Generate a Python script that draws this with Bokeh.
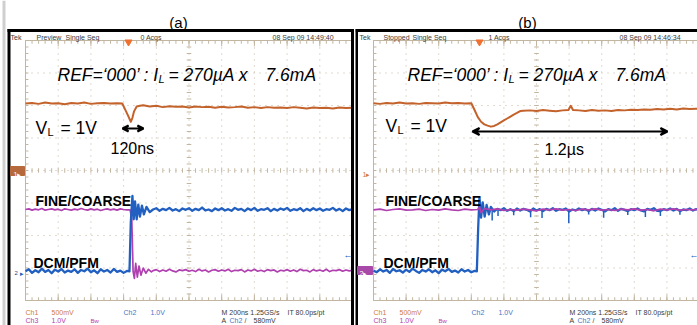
import numpy as np
from bokeh.plotting import figure
from bokeh.layouts import row
from bokeh.models import Range1d, Arrow, VeeHead
from bokeh.core.properties import value
from bokeh.embed import file_html
from bokeh.resources import INLINE

# ---------------- data (time in divisions, 200 ns/div; level in divisions) ----
def grid(a, b, step):
    return np.round(np.arange(a, b + step / 2, step), 3).tolist()

# panel (a)
ch1a_t = grid(0, 2.8, 0.2) + [2.96, 3.06, 3.14, 3.22, 3.27, 3.32, 3.4, 3.5, 3.6] + grid(3.8, 10, 0.2)
ch1a_v = [2.06, 2.08, 2.05, 2.09, 2.06, 2.07, 2.04, 2.08, 2.06, 2.09, 2.05, 2.07, 2.08, 2.06, 2.07,
          2.06, 1.85, 1.68, 1.50, 1.62, 1.82, 1.97, 1.99, 2.01,
          1.97, 1.99, 1.95, 1.98, 1.96, 1.97, 1.94, 1.97, 1.95, 1.96, 1.93, 1.96, 1.94, 1.95, 1.97, 1.93,
          1.95, 1.92, 1.95, 1.93, 1.94, 1.92, 1.95, 1.93, 1.91, 1.94, 1.92, 1.93, 1.91, 1.94, 1.92, 1.93]

ch2a_t = grid(0, 3.1, 0.1) + [3.18, 3.22, 3.27, 3.31, 3.35, 3.40, 3.45, 3.50, 3.56, 3.62, 3.70, 3.80] + grid(3.9, 10, 0.1)
ch2a_v = [-3.10, -3.04, -3.15, -3.07, -3.13, -3.02, -3.12, -3.06, -3.16, -3.05, -3.11, -3.03, -3.14, -3.08, -3.12, -3.04,
          -3.15, -3.06, -3.10, -3.02, -3.13, -3.07, -3.16, -3.04, -3.11, -3.06, -3.14, -3.03, -3.12, -3.08, -3.15, -3.09,
          -3.10, -1.60, -0.78, -1.50, -0.95, -1.50, -1.05, -1.42, -1.08, -1.35, -1.12, -1.28,
          -1.20, -1.16, -1.24, -1.18, -1.22, -1.15, -1.23, -1.19, -1.25, -1.17,
          -1.21, -1.16, -1.24, -1.18, -1.22, -1.14, -1.23, -1.20, -1.25, -1.17,
          -1.22, -1.16, -1.23, -1.19, -1.24, -1.15, -1.21, -1.18, -1.25, -1.17,
          -1.22, -1.15, -1.24, -1.19, -1.21, -1.16, -1.25, -1.18, -1.23, -1.17,
          -1.21, -1.15, -1.24, -1.19, -1.22, -1.16, -1.25, -1.18, -1.23, -1.16,
          -1.22, -1.17, -1.24, -1.19, -1.21, -1.15, -1.23, -1.18, -1.25, -1.17,
          -1.22, -1.19]

ch3a_t = grid(0, 3.1, 0.1) + [3.20, 3.25, 3.29, 3.33, 3.37, 3.42, 3.47, 3.53, 3.60, 3.68, 3.76, 3.85] + grid(3.9, 10, 0.1)
ch3a_v = [-1.20, -1.18, -1.22, -1.19, -1.21, -1.17, -1.22, -1.20, -1.18, -1.21, -1.19, -1.23, -1.18, -1.20, -1.22, -1.19,
          -1.21, -1.17, -1.20, -1.22, -1.18, -1.21, -1.19, -1.23, -1.20, -1.18, -1.21, -1.19, -1.22, -1.18, -1.20, -1.21,
          -1.21, -1.50, -3.10, -3.32, -2.86, -3.28, -2.94, -3.22, -3.00, -3.16, -3.04, -3.12,
          -3.08, -3.05, -3.11, -3.06, -3.10, -3.04, -3.09, -3.12, -3.06, -3.08,
          -3.05, -3.10, -3.07, -3.11, -3.04, -3.09, -3.06, -3.12, -3.07, -3.05,
          -3.10, -3.06, -3.09, -3.04, -3.11, -3.07, -3.08, -3.05, -3.12, -3.06,
          -3.09, -3.04, -3.10, -3.07, -3.11, -3.05, -3.08, -3.06, -3.12, -3.07,
          -3.09, -3.05, -3.10, -3.06, -3.11, -3.04, -3.08, -3.07, -3.12, -3.05,
          -3.09, -3.06, -3.10, -3.04, -3.11, -3.07, -3.08, -3.05, -3.10, -3.06,
          -3.09, -3.07]

# panel (b)
ch1b_t = grid(0, 2.8, 0.2) + grid(3.0, 4.6, 0.1) + [4.8, 5.0, 5.2, 5.4, 5.6, 5.8, 5.98, 6.05, 6.12, 6.3, 6.5, 6.7, 6.9, 7.1, 7.3,
                                                     7.5, 7.7, 7.9, 8.1, 8.3, 8.5, 8.7, 8.9, 9.1, 9.3, 9.5, 9.7, 9.9, 10.0]
ch1b_v = [2.07, 2.05, 2.08, 2.06, 2.09, 2.06, 2.07, 2.05, 2.08, 2.07, 2.06, 2.09, 2.07, 2.08, 2.06,
          2.07, 1.86, 1.64, 1.50, 1.42, 1.38, 1.35, 1.37, 1.42, 1.48, 1.54, 1.60, 1.66, 1.72, 1.77, 1.83, 1.84,
          1.85, 1.83, 1.86, 1.84, 1.82, 1.85, 1.86, 1.99, 1.86, 1.85, 1.83, 1.86, 1.84, 1.85, 1.83,
          1.86, 1.85, 1.87, 1.86, 1.88, 1.87, 1.89, 1.88, 1.90, 1.88, 1.91, 1.89, 1.90, 1.90]

ch2b_t = grid(0, 3.1, 0.1) + [3.17, 3.21, 3.25, 3.30, 3.35, 3.41, 3.47, 3.54, 3.60] + grid(3.7, 10, 0.1)
ch2b_v = [-3.08, -3.13, -3.04, -3.11, -3.06, -3.15, -3.03, -3.10, -3.07, -3.14, -3.05, -3.12, -3.02, -3.09, -3.15, -3.06,
          -3.11, -3.04, -3.13, -3.07, -3.16, -3.05, -3.10, -3.03, -3.12, -3.08, -3.14, -3.04, -3.11, -3.06, -3.13, -3.09,
          -3.10, -1.80, -0.82, -1.45, -0.98, -1.42, -1.06, -1.35, -1.12,
          -1.26, -1.18, -1.22, -1.16, -1.24, -1.19, -1.25, -1.17, -1.23, -1.18,
          -1.21, -1.26, -1.17, -1.23, -1.19, -1.25, -1.18, -1.22, -1.16, -1.24,
          -1.19, -1.21, -1.17, -1.26, -1.20, -1.23, -1.17, -1.22, -1.19, -1.25,
          -1.18, -1.23, -1.17, -1.21, -1.26, -1.19, -1.22, -1.16, -1.24, -1.18,
          -1.21, -1.25, -1.19, -1.22, -1.17, -1.23, -1.26, -1.18, -1.21, -1.16,
          -1.24, -1.25, -1.19, -1.22, -1.17, -1.23, -1.18, -1.25, -1.20, -1.22,
          -1.17, -1.23, -1.19, -1.21]
# narrow downward glitches on the blue trace of panel (b)
ch2b_spike_t = [3.64, 3.82, 4.30, 4.82, 5.17, 5.99, 6.60, 7.06, 7.80, 8.34, 8.80, 9.40]
ch2b_spike_v = [-1.54, -1.40, -1.38, -1.44, -1.46, -1.62, -1.35, -1.45, -1.37, -1.43, -1.40, -1.36]

ch3b_t = grid(0, 3.2, 0.2) + [3.25, 3.3, 3.4] + grid(3.6, 10, 0.2)
ch3b_v = [-1.21, -1.19, -1.23, -1.20, -1.18, -1.22, -1.21, -1.19, -1.23, -1.20, -1.22, -1.18, -1.21, -1.23, -1.19, -1.21, -1.20,
          -1.12, -1.30, -1.17,
          -1.21, -1.18, -1.23, -1.20, -1.22, -1.19, -1.21, -1.24, -1.19, -1.21,
          -1.18, -1.22, -1.20, -1.23, -1.19, -1.21, -1.18, -1.22, -1.20, -1.23,
          -1.19, -1.21, -1.18, -1.22, -1.20, -1.24, -1.19, -1.21, -1.18, -1.22,
          -1.20, -1.21, -1.19]

for a, b in [(ch1a_t, ch1a_v), (ch2a_t, ch2a_v), (ch3a_t, ch3a_v), (ch2b_spike_t, ch2b_spike_v),
             (ch1b_t, ch1b_v), (ch2b_t, ch2b_v), (ch3b_t, ch3b_v)]:
    assert len(a) == len(b), (len(a), len(b))

# ---------------- styling ----------------
C1 = "#c3622b"
C2 = "#2160c0"
C3 = "#b040b0"
GRAT = "#c2b6a0"
TXT = "#3a3a3a"
FONT = "Liberation Sans"
DY = 32.5
YC = 170.0
H = 325


def make_panel(width, img_left, grid_left, dx):
    x0 = (img_left - grid_left) / dx
    x1 = (img_left + width - grid_left) / dx
    p = figure(width=width, height=H,
               x_range=Range1d(x0, x1), y_range=Range1d((YC - H) / DY, YC / DY),
               output_backend="svg", toolbar_location=None, min_border=0,
               x_axis_location=None, y_axis_location=None,
               outline_line_color=None, background_fill_color="white", border_fill_color="white")
    p.xgrid.visible = False
    p.ygrid.visible = False

    def X(px):
        return (px - grid_left) / dx

    def Y(py):
        return (YC - py) / DY
    return p, X, Y, x1


def graticule(p, xmax):
    xs = [v for v in [1, 2, 3, 4, 5, 6, 7, 8, 9] if v < xmax]
    p.segment(x0=xs, y0=-4, x1=xs, y1=4, line_color=GRAT, line_dash="1 5", line_width=1)
    ys = [-3, -2, -1, 0, 1, 2, 3]
    p.segment(x0=0, y0=ys, x1=xmax, y1=ys, line_color=GRAT, line_dash="1 5", line_width=1)
    p.segment(x0=[0, 0, 0], y0=[4, -4, -4], x1=[xmax, xmax, 0], y1=[4, -4, 4], line_color=GRAT, line_width=1)
    mt = np.arange(0, xmax + 1e-9, 0.2)
    p.segment(x0=mt, y0=4, x1=mt, y1=3.9, line_color=GRAT, line_width=1)
    p.segment(x0=mt, y0=-4, x1=mt, y1=-3.9, line_color=GRAT, line_width=1)
    p.segment(x0=mt, y0=-0.07, x1=mt, y1=0.07, line_color=GRAT, line_width=1)
    my = np.arange(-4, 4.001, 0.2)
    p.segment(x0=0, y0=my, x1=0.09, y1=my, line_color=GRAT, line_width=1)
    p.segment(x0=4.93, y0=my, x1=5.07, y1=my, line_color=GRAT, line_width=1)
    mj = np.arange(0, xmax + 1e-9, 1.0)
    p.segment(x0=mj, y0=4, x1=mj, y1=3.82, line_color=GRAT, line_width=1)
    p.segment(x0=mj, y0=-4, x1=mj, y1=-3.82, line_color=GRAT, line_width=1)


def put(p, X, Y, px, py, s, size, color="black", style="normal", align="left", font=FONT):
    p.text(x=[X(px)], y=[Y(py)], text=[s], text_font=value(font), text_font_size=size,
           text_font_style=style, text_color=color, text_align=align, text_baseline="alphabetic")


def scope_text(p, X, Y, dxo, hdr):
    for px, s in hdr:
        put(p, X, Y, px + dxo, 37, s, "7px", TXT)
    put(p, X, Y, 25 + dxo, 312, "Ch1", "7px", "#d07a40")
    put(p, X, Y, 51 + dxo, 312, "500mV", "7px", "#d07a40")
    put(p, X, Y, 123 + dxo, 312, "Ch2", "7px", "#4a74c8")
    put(p, X, Y, 150 + dxo, 312, "1.0V", "7px", "#4a74c8")
    put(p, X, Y, 221 + dxo, 312, "M 200ns  1.25GS/s", "7px", TXT)
    put(p, X, Y, 287 + dxo, 312, "IT 80.0ps/pt", "7px", TXT)
    put(p, X, Y, 25 + dxo, 320, "Ch3", "7px", C3)
    put(p, X, Y, 51 + dxo, 320, "1.0V", "7px", C3)
    put(p, X, Y, 90 + dxo, 320, "Bw", "6px", C3)
    put(p, X, Y, 221 + dxo, 320, "A", "7px", TXT)
    put(p, X, Y, 229 + dxo, 320, "Ch2", "7px", "#4a74c8")
    put(p, X, Y, 244 + dxo, 320, "/", "7px", TXT)
    put(p, X, Y, 253 + dxo, 320, "580mV", "7px", TXT)


def big_text(p, X, Y, dxo, vly):
    put(p, X, Y, 57 + dxo, 74, "REF=\u2018000\u2019 : I", "17.5px", "black", "italic")
    put(p, X, Y, 158 + dxo, 78.5, "L", "11px", "black", "italic")
    put(p, X, Y, 168 + dxo, 74, "= 270\u00b5A x", "17.5px", "black", "italic")
    put(p, X, Y, 265 + dxo, 74, "7.6mA", "17.5px", "black", "italic")
    put(p, X, Y, 35 + dxo, vly, "V", "17.5px")
    put(p, X, Y, 47 + dxo, vly + 4.5, "L", "11px")
    put(p, X, Y, 60 + dxo, vly, "= 1V", "17.5px")
    put(p, X, Y, 35 + dxo, 200, "FINE/COARSE", "14px", "black", "bold")
    put(p, X, Y, 33 + dxo, 262, "DCM/PFM", "14px", "black", "bold")


# ---------------- panel (a) ----------------
pa, Xa, Ya, xmaxa = make_panel(355, 0, 25, 32.7)
graticule(pa, 10)
pa.line(ch3a_t, ch3a_v, line_color=C3, line_width=1.7, line_join="round")
pa.line(ch2a_t, ch2a_v, line_color=C2, line_width=2.3, line_join="round")
pa.line(ch1a_t, ch1a_v, line_color=C1, line_width=2, line_join="round")
pa.segment(x0=[Xa(3.5)], y0=[Ya(0)], x1=[Xa(3.5)], y1=[Ya(325)], line_color="#cfcfcf", line_width=3)
pa.segment(x0=[Xa(8.5), Xa(7), Xa(352)], y0=[Ya(28.5), Ya(30), Ya(28.5)],
           x1=[Xa(8.5), Xa(353.5), Xa(352)], y1=[Ya(330), Ya(30), Ya(330)], line_color="black", line_width=3)
put(pa, Xa, Ya, 178, 22, "(a)", "15px", "black", align="center")
scope_text(pa, Xa, Ya, 0, [(10, "Tek"), (36, "Preview"), (65, "Single Seq"), (140, "0 Acqs"), (272, "08 Sep 09 14:49:40")])
big_text(pa, Xa, Ya, 0, 127)
put(pa, Xa, Ya, 110, 148, "120ns", "16px")
pa.add_layout(Arrow(start=VeeHead(size=6, line_width=2, line_color="black"),
                    end=VeeHead(size=6, line_width=2, line_color="black"),
                    x_start=Xa(122), y_start=Ya(128), x_end=Xa(143), y_end=Ya(128), line_width=2))
pa.scatter([Xa(128)], [Ya(41.5)], marker="inverted_triangle", size=7, color="#f07030")
pa.quad(left=[Xa(10)], right=[Xa(24)], top=[Ya(166)], bottom=[Ya(175)], color="#b5693d")
put(pa, Xa, Ya, 13, 173.5, "1\u25b8", "7px", "white")
put(pa, Xa, Ya, 14, 272, "2", "6px", "#304070")
put(pa, Xa, Ya, 19, 272.5, "\u25b8", "7px", C2)
put(pa, Xa, Ya, 343, 254, "\u2190", "9px", C2)

# ---------------- panel (b) ----------------
pb, Xb, Yb, xmaxb = make_panel(342, 355, 373, 32.6)
graticule(pb, xmaxb)
pb.line(ch2b_t, ch2b_v, line_color=C2, line_width=2.3, line_join="round")
pb.segment(x0=ch2b_spike_t, y0=-1.2, x1=ch2b_spike_t, y1=ch2b_spike_v, line_color=C2, line_width=1.5)
pb.line(ch3b_t, ch3b_v, line_color=C3, line_width=1.7, line_join="round")
pb.line(ch1b_t, ch1b_v, line_color=C1, line_width=2, line_join="round")
pb.segment(x0=[Xb(356), Xb(355)], y0=[Yb(28.5), Yb(30)], x1=[Xb(356), Xb(700)], y1=[Yb(330), Yb(30)],
           line_color="black", line_width=3)
put(pb, Xb, Yb, 527, 22, "(b)", "15px", "black", align="center")
scope_text(pb, Xb, Yb, 348, [(359 - 348, "Tek"), (383 - 348, "Stopped"), (412 - 348, "Single Seq"),
                             (488 - 348, "1 Acqs"), (619 - 348, "08 Sep 09 14:46:34")])
big_text(pb, Xb, Yb, 350, 125)
put(pb, Xb, Yb, 544, 149, "1.2\u00b5s", "16px")
pb.add_layout(Arrow(start=VeeHead(size=7, line_width=2, line_color="black"),
                    end=VeeHead(size=7, line_width=2, line_color="black"),
                    x_start=Xb(472), y_start=Yb(131), x_end=Xb(667), y_end=Yb(131), line_width=2))
pb.scatter([Xb(479)], [Yb(41.5)], marker="inverted_triangle", size=7, color="#f07030")
put(pb, Xb, Yb, 362, 174, "1\u25b8", "7px", "#d07a40")
pb.quad(left=[Xb(357)], right=[Xb(372)], top=[Yb(266)], bottom=[Yb(274)], color="#a848a8")
put(pb, Xb, Yb, 359, 272.5, "2\u25b8", "7px", "white")
put(pb, Xb, Yb, 689, 254, "\u2190", "9px", C2)

layout = row(pa, pb)
open("out.html", "w").write(file_html(layout, INLINE))
